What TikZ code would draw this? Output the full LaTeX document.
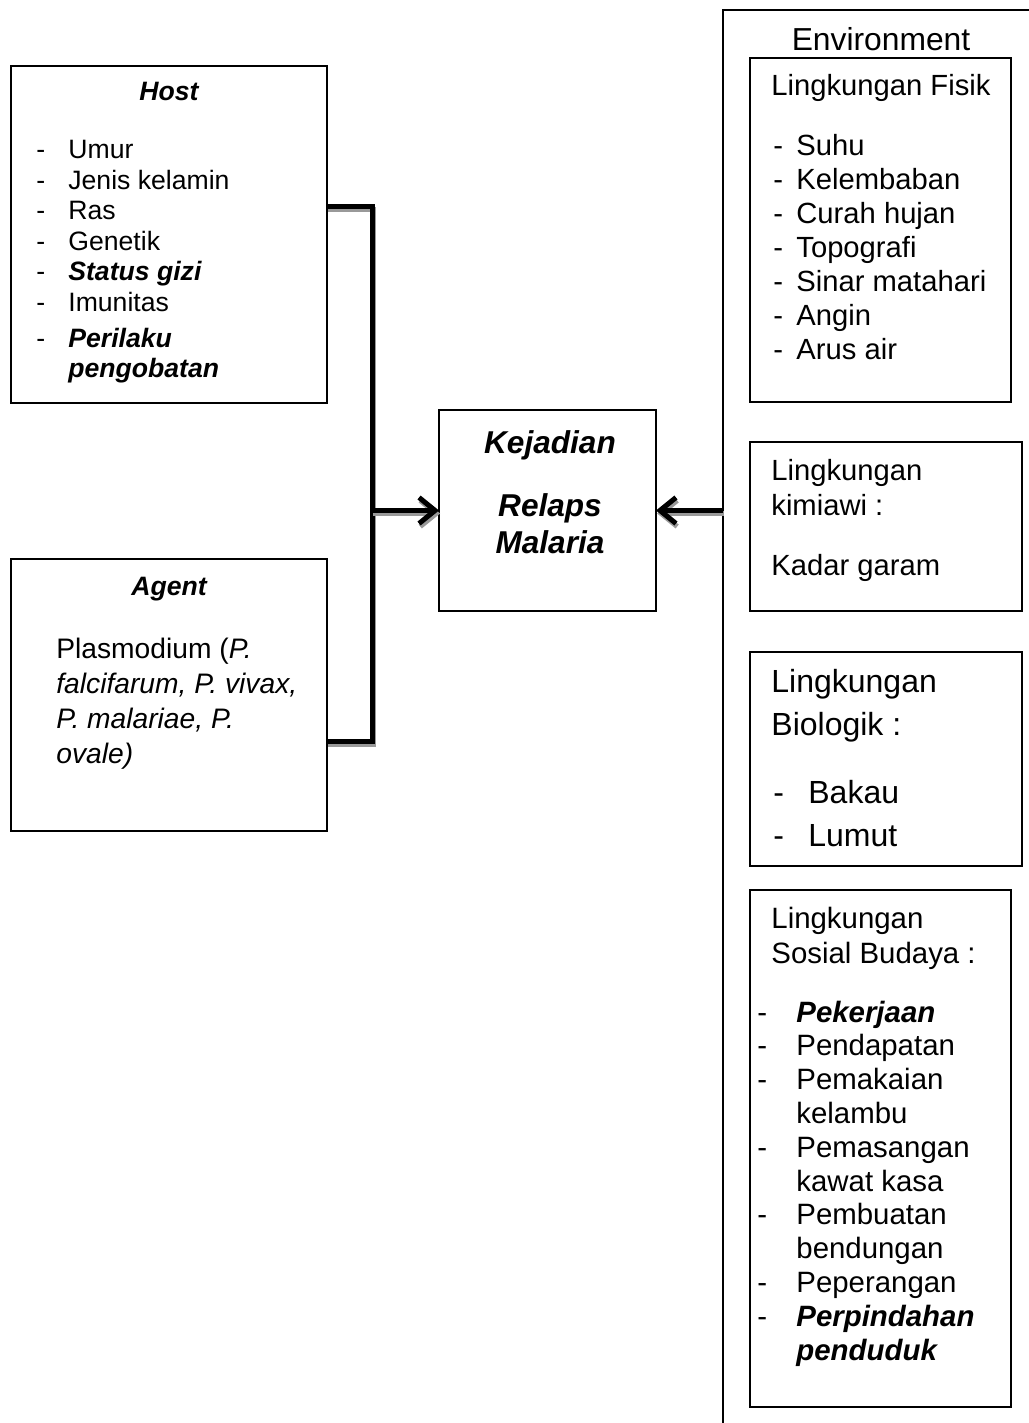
\documentclass[tikz,border=0pt]{standalone}
\usepackage{fontspec}
\setmainfont{Liberation Sans}
\usetikzlibrary{arrows.meta}

\tikzset{
  box/.style={draw, line width=0.75pt, anchor=north west, inner sep=0pt, outer sep=0pt},
  txt/.style={anchor=base west, inner sep=0pt},
  heavy/.style={line width=2.5pt},
  heavyshade/.style={line width=2.5pt, black!40, transform canvas={shift={(0.6pt,-1.5pt)}}},
  barb/.style={-{Straight Barb[length=8pt,width=13pt]}}
}

\begin{document}
\begin{tikzpicture}[x=0.5pt,y=-0.5pt]
  \useasboundingbox (0,0) rectangle (1028,1423);
  \fill[white] (0,0) rectangle (1028,1423);

  % boxes
  \node(host)[box, minimum width=158pt, minimum height=168.5pt] at (11,66) {};
  \node(agent)[box, minimum width=158pt, minimum height=136pt] at (11,559) {};
  \node(kejadian)[box, minimum width=108.5pt, minimum height=100.5pt] at (439,410) {};
  \node(env)[box, draw=none, minimum width=200pt, minimum height=730pt] at (723,10) {};
  \draw[line width=1pt] (env.south west) -- (env.north west) -- (env.north east);
  \node(fisik)[box, minimum width=130.5pt, minimum height=172pt] at (750,58) {};
  \node(kimiawi)[box, minimum width=136pt, minimum height=84.5pt] at (750,442) {};
  \node(biologik)[box, minimum width=136pt, minimum height=107pt] at (750,652) {};
  \node(sosial)[box, minimum width=130.5pt, minimum height=258.5pt] at (750,890) {};

  % host
  \node(hosttitle)[anchor=base, inner sep=0pt] at (169,101)
    {\fontsize{13.3pt}{15.25pt}\selectfont\bfseries\itshape Host};
  \node(hostlist)[txt] at (36,159) {\fontsize{13.3pt}{15.25pt}\selectfont
    \begin{tabular}[t]{@{}p{16pt}@{}l@{}}
      - & Umur\\
      - & Jenis kelamin\\
      - & Ras\\
      - & Genetik\\
      - & \textbf{\textit{Status gizi}}\\
      - & Imunitas\\[2.75pt]
      - & \textbf{\textit{Perilaku}}\\
        & \textbf{\textit{pengobatan}}
    \end{tabular}};

  % agent
  \node(agenttitle)[anchor=base, inner sep=0pt] at (169,595)
    {\fontsize{13.3pt}{15.25pt}\selectfont\bfseries\itshape Agent};
  \node(agenttext)[txt] at (56,658) {\fontsize{14.1pt}{17.5pt}\selectfont
    \begin{tabular}[t]{@{}l@{}}
      Plasmodium (\textit{P.}\\
      \textit{falcifarum, P. vivax,}\\
      \textit{P. malariae, P.}\\
      \textit{ovale)}
    \end{tabular}};

  % kejadian
  \node(kejadiantext)[anchor=base, inner sep=0pt] at (550,453)
    {\fontsize{15.8pt}{18.5pt}\selectfont\bfseries\itshape
    \begin{tabular}[t]{@{}c@{}}
      Kejadian\\[13pt]
      Relaps\\
      Malaria
    \end{tabular}};

  % environment
  \node(envtitle)[anchor=base, inner sep=0pt] at (881,51)
    {\fontsize{15.9pt}{18pt}\selectfont Environment};

  \node(fisiktitle)[txt] at (771,96)
    {\fontsize{14.6pt}{17pt}\selectfont Lingkungan Fisik};
  \node(fisiklist)[txt] at (773,156) {\fontsize{14.6pt}{17pt}\selectfont
    \begin{tabular}[t]{@{}p{11.5pt}@{}l@{}}
      - & Suhu\\
      - & Kelembaban\\
      - & Curah hujan\\
      - & Topografi\\
      - & Sinar matahari\\
      - & Angin\\
      - & Arus air
    \end{tabular}};

  \node(kimiawitext)[txt] at (771,480) {\fontsize{14.6pt}{17.5pt}\selectfont
    \begin{tabular}[t]{@{}l@{}}
      Lingkungan\\
      kimiawi :\\[12.5pt]
      Kadar garam
    \end{tabular}};

  \node(biologiktitle)[txt] at (771,692) {\fontsize{16pt}{21.5pt}\selectfont
    \begin{tabular}[t]{@{}l@{}}
      Lingkungan\\
      Biologik :
    \end{tabular}};
  \node(biologiklist)[txt] at (773,803) {\fontsize{16pt}{21.5pt}\selectfont
    \begin{tabular}[t]{@{}p{17.5pt}@{}l@{}}
      - & Bakau\\
      - & Lumut
    \end{tabular}};

  \node(sosialtitle)[txt] at (771,928) {\fontsize{14.7pt}{17.5pt}\selectfont
    \begin{tabular}[t]{@{}l@{}}
      Lingkungan\\
      Sosial Budaya :
    \end{tabular}};
  \node(sosiallist)[txt] at (757,1022) {\fontsize{14.7pt}{16.9pt}\selectfont
    \begin{tabular}[t]{@{}p{19.5pt}@{}l@{}}
      - & \textbf{\textit{Pekerjaan}}\\
      - & Pendapatan\\
      - & Pemakaian\\
        & kelambu\\
      - & Pemasangan\\
        & kawat kasa\\
      - & Pembuatan\\
        & bendungan\\
      - & Peperangan\\
      - & \textbf{\textit{Perpindahan}}\\
        & \textbf{\textit{penduduk}}
    \end{tabular}};

  % connectors
  \coordinate(hostout) at (327,207);
  \coordinate(agentout) at (327,741);
  \coordinate(joint) at (372,207);

  \draw[heavyshade] (hostout) -- (joint) -- (joint |- agentout) -- (agentout);
  \draw[heavy] (hostout) -- (joint) -- (joint |- agentout) -- (agentout);
  \draw[heavyshade, barb] (joint |- kejadian) -- (kejadian.west);
  \draw[heavy, barb] (joint |- kejadian) -- (kejadian.west);
  \draw[heavyshade, barb] (env.west |- kejadian) -- (kejadian.east);
  \draw[heavy, barb] (env.west |- kejadian) -- (kejadian.east);
\end{tikzpicture}
\end{document}
